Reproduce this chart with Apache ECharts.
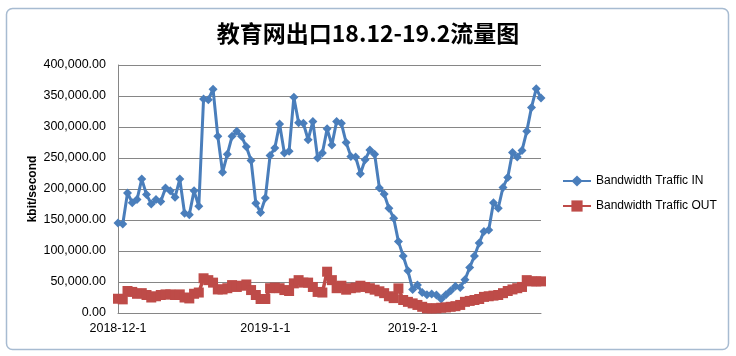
<!DOCTYPE html>
<html>
<head>
<meta charset="utf-8">
<script src="https://cdn.jsdelivr.net/npm/echarts@6/dist/echarts.min.js"></script>
<style>
html,body{margin:0;padding:0;background:#fff;}
#c{width:736px;height:356px;}
</style>
</head>
<body>
<div id="c"></div>
<script>
var categories = [
'2018-12-1','2018-12-2','2018-12-3','2018-12-4','2018-12-5','2018-12-6','2018-12-7','2018-12-8','2018-12-9','2018-12-10',
'2018-12-11','2018-12-12','2018-12-13','2018-12-14','2018-12-15','2018-12-16','2018-12-17','2018-12-18','2018-12-19','2018-12-20',
'2018-12-21','2018-12-22','2018-12-23','2018-12-24','2018-12-25','2018-12-26','2018-12-27','2018-12-28','2018-12-29','2018-12-30',
'2018-12-31','2019-1-1','2019-1-2','2019-1-3','2019-1-4','2019-1-5','2019-1-6','2019-1-7','2019-1-8','2019-1-9',
'2019-1-10','2019-1-11','2019-1-12','2019-1-13','2019-1-14','2019-1-15','2019-1-16','2019-1-17','2019-1-18','2019-1-19',
'2019-1-20','2019-1-21','2019-1-22','2019-1-23','2019-1-24','2019-1-25','2019-1-26','2019-1-27','2019-1-28','2019-1-29',
'2019-1-30','2019-1-31','2019-2-1','2019-2-2','2019-2-3','2019-2-4','2019-2-5','2019-2-6','2019-2-7','2019-2-8',
'2019-2-9','2019-2-10','2019-2-11','2019-2-12','2019-2-13','2019-2-14','2019-2-15','2019-2-16','2019-2-17','2019-2-18',
'2019-2-19','2019-2-20','2019-2-21','2019-2-22','2019-2-23','2019-2-24','2019-2-25','2019-2-26','2019-2-27','2019-2-28'
];
var xTickLabels = ['2018-12-1','2019-1-1','2019-2-1'];
var trafficIn = [
145000,143600,193500,178000,183000,216000,191000,176000,183000,180000,
201600,197000,186500,216000,161000,158500,197000,172000,345000,344000,
361000,285000,227000,256000,285000,293000,285000,268000,246000,177000,
162000,185500,254000,266000,305000,258000,261000,348000,307000,306000,
279500,309000,250000,258000,297000,271000,309000,306000,275000,252600,
251600,224700,247000,263000,256000,201600,192000,169000,153000,115500,
92000,68000,38000,45000,33000,29500,30600,29000,22600,29500,
36000,43000,41000,53700,73500,92000,113000,131600,134000,178000,
169000,202600,218700,259000,251600,262000,293000,331600,361800,346800
];
var trafficOut = [
23000,22000,35500,34000,31000,32000,29000,25000,27000,29000,
30000,30000,29000,30000,25000,23500,31000,33000,56000,53000,
49000,38000,38000,40000,45000,42000,44000,46000,37000,29000,
22600,22600,40000,41000,40000,37000,35500,47800,53000,49000,
49000,42000,34000,33000,66600,53000,40000,44000,37600,40000,
41000,44000,42000,40000,37600,35000,32000,27000,24000,39700,
21000,18000,15500,13000,10000,7500,7500,7500,8500,9000,
10000,11000,13000,18000,19500,21000,22600,26000,27000,28000,
29000,32000,35500,38000,40000,42000,53000,51000,51000,51000
];

var chart = echarts.init(document.getElementById('c'), null, {renderer:'canvas'});
function fmt(v){ return v.toFixed(2).replace(/\B(?=(\d{3})+(?!\d))/g, ','); }
var gridColor = '#868686';
var font = 'Liberation Sans';
chart.setOption({
  animation:false,
  backgroundColor:'#ffffff',
  title:{
    text:'教育网出口18.12-19.2流量图',
    left:'center', top:17,
    textStyle:{fontFamily:'Noto Sans CJK SC', fontWeight:'bold', fontSize:23, color:'#000'}
  },
  legend:{
    orient:'vertical', left:557, top:170, itemGap:13, itemWidth:28, itemHeight:14,
    textStyle:{fontFamily:font, fontSize:12, color:'#000'},
    data:['Bandwidth Traffic IN','Bandwidth Traffic OUT']
  },
  grid:{left:118, top:65, right:195, bottom:43},
  xAxis:{
    type:'category', data:categories, boundaryGap:false,
    axisLine:{lineStyle:{color:gridColor, width:1}},
    axisTick:{show:false},
    axisLabel:{
      fontFamily:font, fontSize:12.5, color:'#000', margin:9,
      interval:function(i, v){ return xTickLabels.indexOf(v) >= 0; }
    },
    splitLine:{show:false}
  },
  yAxis:{
    type:'value', min:0, max:400000, interval:50000,
    name:'kbit/second', nameLocation:'middle', nameGap:79, nameMoveOverlap:false,
    nameTextStyle:{fontFamily:font, fontWeight:'bold', fontSize:12, color:'#000'},
    axisLine:{show:true, lineStyle:{color:gridColor, width:1}},
    axisTick:{show:false},
    axisLabel:{fontFamily:font, fontSize:12.5, color:'#000', margin:12, formatter:fmt},
    splitLine:{lineStyle:{color:gridColor, width:1}}
  },
  graphic:[{
    type:'rect', left:4, top:6, silent:true,
    shape:{width:722, height:341, r:6},
    style:{fill:'none', stroke:'#a7bbd1', lineWidth:1.5}
  }],
  series:[
    {
      name:'Bandwidth Traffic IN', type:'line', data:trafficIn,
      symbol:'diamond', symbolSize:9, showAllSymbol:true,
      lineStyle:{color:'#4a7ebb', width:3},
      itemStyle:{color:'#4a7ebb'}
    },
    {
      name:'Bandwidth Traffic OUT', type:'line', data:trafficOut,
      symbol:'rect', symbolSize:10, showAllSymbol:true,
      lineStyle:{color:'#be4b48', width:3.5},
      itemStyle:{color:'#be4b48'}
    }
  ]
});
</script>
</body>
</html>
